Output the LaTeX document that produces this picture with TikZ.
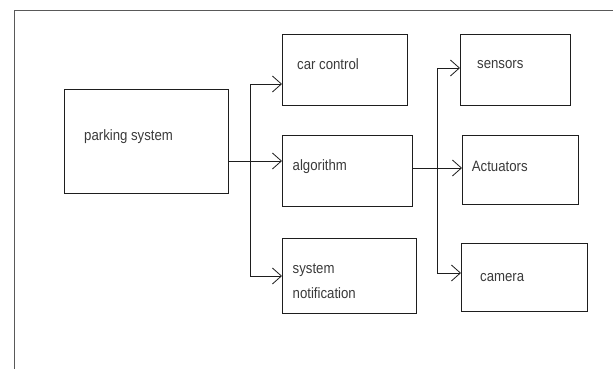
\documentclass[tikz,border=0pt]{standalone}
\usepackage{fontspec}
\setmainfont{Liberation Sans}[FakeStretch=0.88]
\usetikzlibrary{arrows.meta}

\definecolor{linegray}{HTML}{1E1E1E}
\definecolor{textgray}{HTML}{3A3A3A}

\tikzset{
  block/.style={draw=linegray, line width=0.8pt, rectangle, inner sep=0pt, outer sep=0pt},
  lbl/.style={anchor=base west, inner sep=0pt, text=textgray, font=\fontsize{15}{17}\selectfont},
  conn/.style={draw=linegray, line width=0.8pt, -{Straight Barb[length=9pt, width=16pt, line width=0.8pt]}}
}

\begin{document}
\begin{tikzpicture}[x=1pt, y=-1pt]

\useasboundingbox (0,0) rectangle (613,369);

% frame, only top and left edges show
\draw[gray!70!black, line width=0.8pt] (613,10) -- (14,10) -- (14,369);

% boxes
\node[block, minimum width=164pt, minimum height=104pt] (parking) at (146,141) {};
\node[block, minimum width=125pt, minimum height=71pt] (carctl) at (344.5,69.5) {};
\node[block, minimum width=130pt, minimum height=71pt] (algo) at (347,170.5) {};
\node[block, minimum width=134pt, minimum height=75pt] (notif) at (349,275.5) {};
\node[block, minimum width=110pt, minimum height=71pt] (sensors) at (515,69.5) {};
\node[block, minimum width=116pt, minimum height=69pt] (actuators) at (520,169.5) {};
\node[block, minimum width=126pt, minimum height=68pt] (camera) at (524,277) {};

% labels
\node[lbl] (parking-txt) at (84,140) {parking system};
\node[lbl] (carctl-txt) at (297,70) {car control};
\node[lbl] (algo-txt) at (292.5,170) {algorithm};
\node[lbl] (notif-txt1) at (292.5,273) {system};
\node[lbl] (notif-txt2) at (292.5,298) {notification};
\node[lbl] (sensors-txt) at (477,68.3) {sensors};
\node[lbl] (actuators-txt) at (471.7,171.5) {Actuators};
\node[lbl] (camera-txt) at (480,281.7) {camera};

% bus points
\coordinate (lbus) at (250,161);
\coordinate (rbus) at (437,168);

% parking system -> second column
\draw[conn] (parking.east |- lbus) -- (algo.west |- lbus);
\draw[conn] (lbus) |- (carctl.west |- 0,84);
\draw[conn] (lbus) |- (notif.west |- 0,276);

% algorithm -> third column
\draw[conn] (algo.east |- rbus) -- (actuators.west |- rbus);
\draw[conn] (rbus) |- (sensors.west |- 0,68);
\draw[conn] (rbus) |- (camera.west |- 0,273);

\end{tikzpicture}
\end{document}
